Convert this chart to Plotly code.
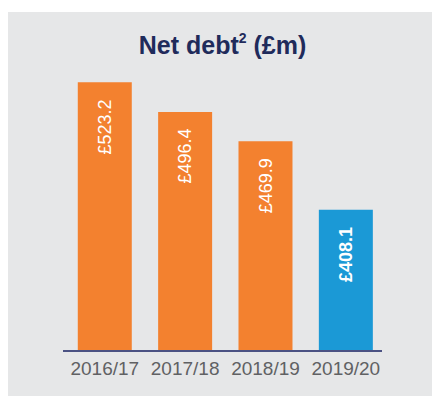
import plotly.graph_objects as go

# Net debt by financial year (£m)
years = ["2016/17", "2017/18", "2018/19", "2019/20"]
net_debt = [523.2, 496.4, 469.9, 408.1]
value_labels = ["£523.2", "£496.4", "£469.9", "£408.1"]

ORANGE = "#F3812F"
BLUE = "#1B99D6"
PANEL = "#E6E7E8"
NAVY = "#1F2B5B"
FONT = "Liberation Sans, Arial, sans-serif"

bar_colors = [ORANGE, ORANGE, ORANGE, BLUE]

fig = go.Figure(
    go.Bar(
        x=years,
        y=net_debt,
        marker=dict(color=bar_colors, line=dict(width=0)),
        hoverinfo="skip",
    )
)

# value labels written vertically near the top of each bar
for i, (yr, val, lab) in enumerate(zip(years, net_debt, value_labels)):
    latest = i == len(years) - 1
    fig.add_annotation(
        x=yr,
        y=val,
        xref="x",
        yref="y",
        text=f"<b>{lab}</b>" if latest else lab,
        textangle=-90,
        showarrow=False,
        xanchor="center",
        yanchor="top",
        yshift=-15,
        font=dict(family=FONT, size=18, color="white"),
    )

# light grey panel behind the chart
fig.add_shape(
    type="rect",
    xref="paper",
    yref="paper",
    x0=-0.1724,
    x1=1.2,
    y0=-0.25,
    y1=1.2071,
    fillcolor=PANEL,
    line=dict(width=0),
    layer="below",
)

fig.update_layout(
    width=432,
    height=396,
    margin=dict(l=63, r=50, t=70, b=46),
    paper_bgcolor="white",
    plot_bgcolor="rgba(0,0,0,0)",
    bargap=0.328,
    showlegend=False,
    title=dict(
        text="<b>Net debt<sup><span style='font-size:14px'>2</span></sup> (£m)</b>",
        x=0.5,
        xref="paper",
        xanchor="center",
        y=1 - 45 / 396,
        yref="container",
        yanchor="middle",
        font=dict(family=FONT, size=25, color=NAVY),
    ),
    xaxis=dict(
        type="category",
        range=[-0.52, 3.45],
        showline=True,
        linecolor="#4B5283",
        linewidth=2,
        showgrid=False,
        zeroline=False,
        ticks="",
        tickfont=dict(family=FONT, size=19, color="#606163"),
        fixedrange=True,
    ),
    yaxis=dict(
        range=[281.45, 534.2],
        visible=False,
        showgrid=False,
        zeroline=False,
        fixedrange=True,
    ),
)

fig.write_html("out.html")
